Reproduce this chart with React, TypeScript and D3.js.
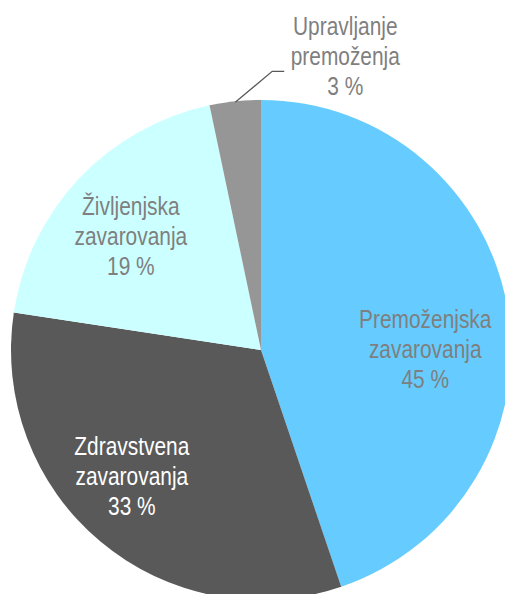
import React from "react";
import * as d3 from "d3";

const categories = ["Premoženjska zavarovanja", "Zdravstvena zavarovanja", "Življenjska zavarovanja", "Upravljanje premoženja"];
const labelLines = [
  ["Premoženjska", "zavarovanja", "45 %"],
  ["Zdravstvena", "zavarovanja", "33 %"],
  ["Življenjska", "zavarovanja", "19 %"],
  ["Upravljanje", "premoženja", "3 %"],
];
const values = [44.8, 32.6, 19.3, 3.3];
const colors = ["#66CCFF", "#595959", "#CCFFFF", "#969696"];
const labelColors = ["#7F7F7F", "#FFFFFF", "#7F7F7F", "#7F7F7F"];

// label placement (angle in degrees clockwise from top, radius as fraction of pie radius)
const labelAngles = [89.6, 225.7, 311.2, 16.0];
const labelRadii = [0.657, 0.722, 0.692, 1.223];

const W = 505;
const H = 594;
const cx = 261;
const cy = 350;
const R = 250;

export default function App() {
  const data = categories.map((c, i) => ({ name: c, value: values[i], i }));
  const pie = d3.pie<any>().sort(null).value((d) => d.value).startAngle(0).endAngle(2 * Math.PI);
  const arcs = pie(data);
  const arc = d3.arc<any>().innerRadius(0).outerRadius(R);
  const fontSize = 25.5;
  const lineH = 30;

  const polar = (deg: number, r: number) => {
    const a = (deg * Math.PI) / 180;
    return [Math.sin(a) * r, -Math.cos(a) * r];
  };

  // leader line for small slice
  const small = arcs[3];
  const midA = (small.startAngle + small.endAngle) / 2;
  const p0 = [Math.sin(midA) * (R - 1), -Math.cos(midA) * (R - 1)];
  const p1 = [p0[0] + 37, p0[1] - 31];
  const p2 = [p1[0] + 12, p1[1]];

  return (
    <svg width={W} height={H} style={{ position: "absolute", left: 0, top: 0 }}>
      <g transform={`translate(${cx},${cy})`}>
        {arcs.map((a, i) => (
          <path key={i} d={arc(a) || ""} fill={colors[i]} />
        ))}
        <polyline
          points={[p0, p1, p2].map((p) => p.join(",")).join(" ")}
          fill="none"
          stroke="#595959"
          strokeWidth={1.3}
        />
        {arcs.map((a, i) => {
          const [x, y] = polar(labelAngles[i], labelRadii[i] * R);
          const lines = labelLines[i];
          return (
            <text
              key={i}
              transform={`translate(${x},${y}) scale(0.82,1)`}
              textAnchor="middle"
              fill={labelColors[i]}
              style={{ fontFamily: "'Liberation Sans', Arial, sans-serif", fontSize }}
            >
              {lines.map((l, j) => (
                <tspan key={j} x={0} y={(j - 1) * lineH + fontSize * 0.35}>
                  {l}
                </tspan>
              ))}
            </text>
          );
        })}
      </g>
    </svg>
  );
}
